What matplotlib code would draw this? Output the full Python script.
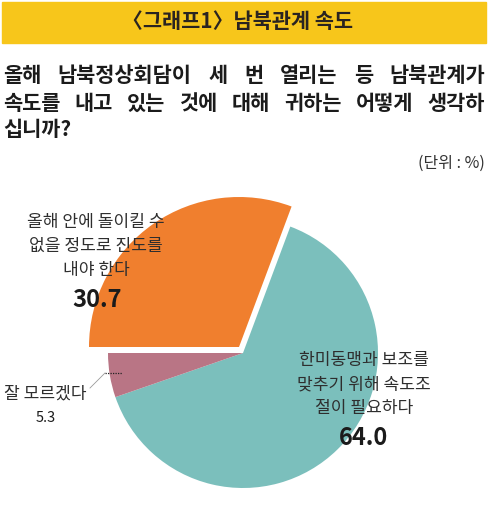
import matplotlib
matplotlib.use('Agg')
import matplotlib.pyplot as plt
from matplotlib.patches import Rectangle

plt.rcParams['font.family'] = ['Noto Sans CJK KR', 'DejaVu Sans']

title = '〈그래프1〉남북관계 속도'
question = ['올해 남북정상회담이 세 번 열리는 등 남북관계가',
            '속도를 내고 있는 것에 대해 귀하는 어떻게 생각하',
            '십니까?']
unit = '(단위 : %)'

labels = [['올해 안에 돌이킬 수', '없을 정도로 진도를', '내야 한다'],
          ['한미동맹과 보조를', '맞추기 위해 속도조', '절이 필요하다'],
          ['잘 모르겠다']]
values = [30.7, 64.0, 5.3]
colors = ['#F07F2E', '#7BBFBC', '#B97585']

W, H = 488, 512
fig = plt.figure(figsize=(W / 100, H / 100), dpi=100)
ax = fig.add_axes([0, 0, 1, 1])


def py(y):
    # pixel row (from top) -> data y
    return H - y


# title band
ax.add_patch(Rectangle((2, py(43)), 484, 41, color='#F7C61B', zorder=0))
ax.text(238, py(22), title, ha='center', va='center', fontsize=15,
        fontweight='bold', color='#2a2421')

# question, first two lines justified
fig.canvas.draw()
rend = fig.canvas.get_renderer()
qy = [75, 103, 130]
qkw = dict(ha='left', va='center', fontsize=15, fontweight='bold', color='#1b1b1b')
for i, line in enumerate(question):
    if i < 2:
        words = line.split(' ')
        tmp = [ax.text(0, 0, w, **qkw) for w in words]
        widths = [t.get_window_extent(rend).width for t in tmp]
        for t in tmp:
            t.remove()
        gap = (482 - sum(widths)) / (len(words) - 1)
        x = 3
        for w, wd in zip(words, widths):
            ax.text(x, py(qy[i]), w, **qkw)
            x += wd + gap
    else:
        ax.text(3, py(qy[i]), line, **qkw)

ax.text(485, py(163), unit, ha='right', va='center', fontsize=11.5, color='#333333')

# pie
wedges, _ = ax.pie(values, colors=colors, startangle=180, counterclock=False,
                   center=(243, py(353)), radius=135,
                   wedgeprops=dict(linewidth=0))
wedges[0].set_center((239, py(347)))
wedges[0].set_radius(150)

# labels
lab_pos = [(96, [222, 246, 270]), (364, [360, 384, 408]), (45, [393])]
for (lx, ys), lines in zip(lab_pos, labels):
    for yy, t in zip(ys, lines):
        ax.text(lx, py(yy), t, ha='center', va='center', fontsize=12.3,
                color='#2e2e2e')

ax.text(97, py(300), f'{values[0]:.1f}', ha='center', va='center',
        fontsize=17, fontweight='bold', color='#1b1b1b')
ax.text(364, py(438), f'{values[1]:.1f}', ha='center', va='center',
        fontsize=17, fontweight='bold', color='#1b1b1b')
ax.text(46, py(418), f'{values[2]:.1f}', ha='center', va='center',
        fontsize=10.5, color='#1b1b1b')

# leader line for the small slice
ax.plot([105, 122], [py(373), py(373)], color='#222222', lw=0.9, ls=(0, (1, 1)))
ax.plot([90, 105], [py(388), py(373)], color='#999999', lw=0.6)

ax.set_xlim(0, W)
ax.set_ylim(0, H)
ax.set_aspect('auto')
ax.axis('off')

fig.savefig('out.png', dpi=100, facecolor='white')
